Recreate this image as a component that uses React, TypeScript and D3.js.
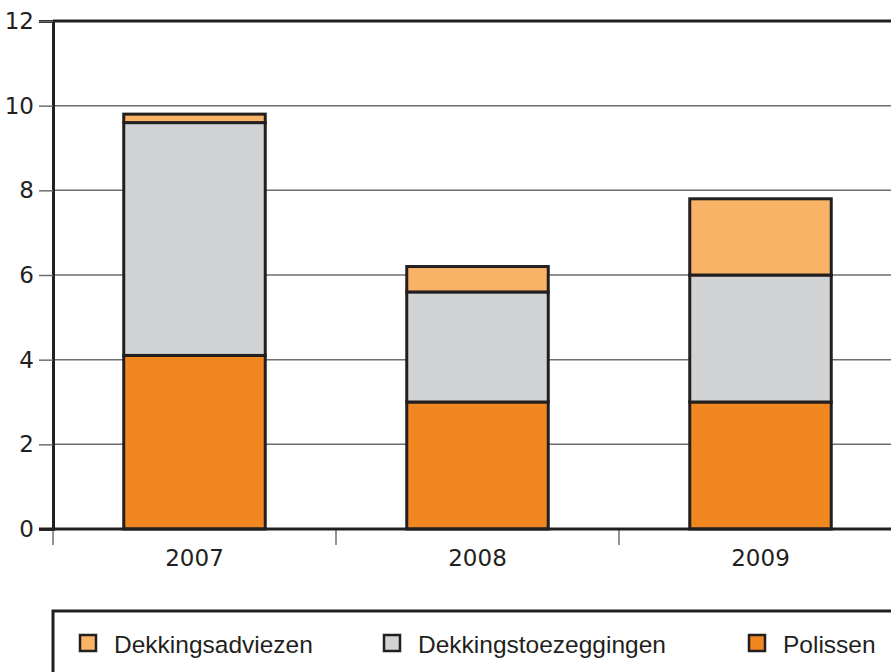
import { useEffect, useRef } from "react";
import * as d3 from "d3";

const years = ["2007", "2008", "2009"];
const polissen = [4.1, 3.0, 3.0];
const toezeggingen = [5.5, 2.6, 3.0];
const adviezen = [0.2, 0.6, 1.8];
const yTicks = [0, 2, 4, 6, 8, 10, 12];

const seriesNames = ["Polissen", "Dekkingstoezeggingen", "Dekkingsadviezen"];
const colors = ["#f08720", "#d1d3d4", "#f9b366"];
const ink = "#231f20";

export default function App() {
  const ref = useRef<SVGSVGElement>(null);

  useEffect(() => {
    const svg = d3.select(ref.current);
    svg.selectAll("*").remove();

    const width = 891;
    const margin = { top: 21, left: 53, bottom: 529 };

    // band spans past the right edge, just like the cropped original
    const x = d3
      .scaleBand()
      .domain(years)
      .range([margin.left, margin.left + 283 * 3])
      .paddingInner(0)
      .paddingOuter(0);

    const y = d3.scaleLinear().domain([0, 12]).range([margin.bottom, margin.top]);

    const numFont = "'DejaVu Sans', sans-serif";
    const font = "'Liberation Sans', Arial, sans-serif";

    // gridlines
    svg
      .append("g")
      .selectAll("line")
      .data(yTicks.filter((d) => d > 0 && d < 12))
      .join("line")
      .attr("x1", margin.left)
      .attr("x2", width)
      .attr("y1", (d) => y(d))
      .attr("y2", (d) => y(d))
      .attr("stroke", "#6d6e70")
      .attr("stroke-width", 1.5);

    // top frame line
    svg
      .append("line")
      .attr("x1", margin.left)
      .attr("x2", width)
      .attr("y1", y(12))
      .attr("y2", y(12))
      .attr("stroke", ink)
      .attr("stroke-width", 3);

    // stacked data
    const rows = years.map((yr, i) => ({
      year: yr,
      Polissen: polissen[i],
      Dekkingstoezeggingen: toezeggingen[i],
      Dekkingsadviezen: adviezen[i],
    }));
    const stacked = d3.stack<any>().keys(seriesNames)(rows);

    const barW = x.bandwidth() / 2;
    svg
      .append("g")
      .selectAll("g")
      .data(stacked)
      .join("g")
      .attr("fill", (_, i) => colors[i])
      .selectAll("rect")
      .data((d) => d)
      .join("rect")
      .attr("x", (d) => x(d.data.year)! + (x.bandwidth() - barW) / 2)
      .attr("width", barW)
      .attr("y", (d) => y(d[1]))
      .attr("height", (d) => y(d[0]) - y(d[1]))
      .attr("stroke", ink)
      .attr("stroke-width", 3);

    // y axis
    const yAxis = svg
      .append("g")
      .attr("transform", `translate(${margin.left},0)`)
      .call(d3.axisLeft(y).tickValues(yTicks).tickSize(14).tickPadding(5));
    yAxis.attr("font-family", numFont).attr("font-size", 23);
    yAxis.select(".domain").attr("stroke", ink).attr("stroke-width", 3);
    yAxis.selectAll(".tick line").attr("stroke", "#6d6e70").attr("stroke-width", 1.5);
    yAxis.selectAll(".tick text").attr("fill", ink);

    // x axis
    const xAxis = svg
      .append("g")
      .attr("transform", `translate(0,${margin.bottom})`)
      .call(d3.axisBottom(x).tickSize(0).tickPadding(21));
    xAxis.attr("font-family", numFont).attr("font-size", 23);
    xAxis.select(".domain").remove();
    xAxis.selectAll(".tick text").attr("fill", ink);

    svg
      .append("g")
      .selectAll("line")
      .data(years)
      .join("line")
      .attr("x1", (d) => x(d)!)
      .attr("x2", (d) => x(d)!)
      .attr("y1", margin.bottom)
      .attr("y2", margin.bottom + 16)
      .attr("stroke", "#6d6e70")
      .attr("stroke-width", 1.5);

    svg
      .append("line")
      .attr("x1", margin.left - 14)
      .attr("x2", width)
      .attr("y1", margin.bottom)
      .attr("y2", margin.bottom)
      .attr("stroke", ink)
      .attr("stroke-width", 3);

    // legend
    svg
      .append("rect")
      .attr("x", margin.left)
      .attr("y", 611)
      .attr("width", width)
      .attr("height", 100)
      .attr("fill", "none")
      .attr("stroke", ink)
      .attr("stroke-width", 3);

    const legend = [
      { name: "Dekkingsadviezen", color: colors[2], x: 79 },
      { name: "Dekkingstoezeggingen", color: colors[1], x: 383 },
      { name: "Polissen", color: colors[0], x: 748 },
    ];
    const lg = svg
      .append("g")
      .selectAll("g")
      .data(legend)
      .join("g")
      .attr("transform", (d) => `translate(${d.x},634)`);
    lg.append("rect")
      .attr("x", 1)
      .attr("y", 1)
      .attr("width", 16)
      .attr("height", 16)
      .attr("fill", (d) => d.color)
      .attr("stroke", ink)
      .attr("stroke-width", 2.5);
    lg.append("text")
      .attr("x", 35)
      .attr("y", 19)
      .attr("font-family", font)
      .attr("font-size", 24.5)
      .attr("fill", ink)
      .text((d) => d.name);
  }, []);

  return (
    <div style={{ position: "absolute", left: 0, top: 0 }}>
      <svg ref={ref} width={891} height={672} style={{ display: "block" }} />
    </div>
  );
}
